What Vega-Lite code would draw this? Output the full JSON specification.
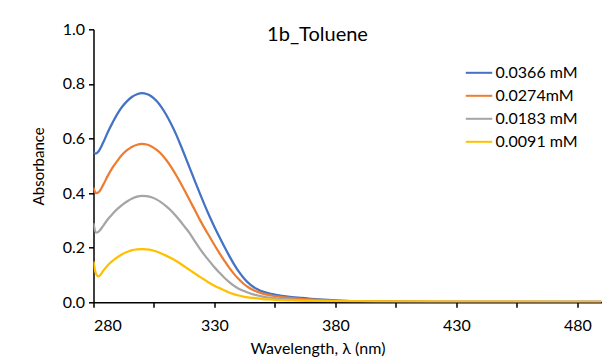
{
  "$schema": "https://vega.github.io/schema/vega-lite/v6.json",
  "width": 508,
  "height": 273,
  "autosize": {"type": "none"},
  "padding": {"left": 93.5, "top": 29.3, "right": 11.5, "bottom": 55.7},
  "background": "white",
  "title": {"text": "1b_Toluene", "font": "Lato", "fontSize": 20, "fontWeight": "normal", "color": "#000000", "anchor": "middle", "offset": 0, "baseline": "alphabetic", "dy": 40, "dx": -30},
  "config": {
    "view": {"stroke": null},
    "font": "Lato"
  },
  "data": {"values": [
    {"wl": 280, "A": 0.552, "c": "0.0366 mM"}, {"wl": 281, "A": 0.545, "c": "0.0366 mM"}, {"wl": 282, "A": 0.552, "c": "0.0366 mM"}, {"wl": 284, "A": 0.585, "c": "0.0366 mM"}, {"wl": 286, "A": 0.625, "c": "0.0366 mM"}, {"wl": 288, "A": 0.66, "c": "0.0366 mM"}, {"wl": 290, "A": 0.692, "c": "0.0366 mM"}, {"wl": 292, "A": 0.718, "c": "0.0366 mM"}, {"wl": 294, "A": 0.738, "c": "0.0366 mM"}, {"wl": 296, "A": 0.753, "c": "0.0366 mM"}, {"wl": 298, "A": 0.762, "c": "0.0366 mM"}, {"wl": 300, "A": 0.766, "c": "0.0366 mM"}, {"wl": 302, "A": 0.763, "c": "0.0366 mM"}, {"wl": 304, "A": 0.754, "c": "0.0366 mM"}, {"wl": 306, "A": 0.738, "c": "0.0366 mM"}, {"wl": 308, "A": 0.716, "c": "0.0366 mM"}, {"wl": 310, "A": 0.688, "c": "0.0366 mM"}, {"wl": 312, "A": 0.655, "c": "0.0366 mM"}, {"wl": 314, "A": 0.618, "c": "0.0366 mM"}, {"wl": 316, "A": 0.576, "c": "0.0366 mM"}, {"wl": 318, "A": 0.532, "c": "0.0366 mM"}, {"wl": 320, "A": 0.487, "c": "0.0366 mM"}, {"wl": 322, "A": 0.442, "c": "0.0366 mM"}, {"wl": 324, "A": 0.398, "c": "0.0366 mM"}, {"wl": 326, "A": 0.355, "c": "0.0366 mM"}, {"wl": 328, "A": 0.314, "c": "0.0366 mM"}, {"wl": 330, "A": 0.276, "c": "0.0366 mM"}, {"wl": 332, "A": 0.24, "c": "0.0366 mM"}, {"wl": 334, "A": 0.205, "c": "0.0366 mM"}, {"wl": 336, "A": 0.172, "c": "0.0366 mM"}, {"wl": 338, "A": 0.141, "c": "0.0366 mM"}, {"wl": 340, "A": 0.113, "c": "0.0366 mM"}, {"wl": 342, "A": 0.09, "c": "0.0366 mM"}, {"wl": 344, "A": 0.071, "c": "0.0366 mM"}, {"wl": 346, "A": 0.057, "c": "0.0366 mM"}, {"wl": 348, "A": 0.047, "c": "0.0366 mM"}, {"wl": 350, "A": 0.039, "c": "0.0366 mM"}, {"wl": 354, "A": 0.03, "c": "0.0366 mM"}, {"wl": 358, "A": 0.024, "c": "0.0366 mM"}, {"wl": 362, "A": 0.019, "c": "0.0366 mM"}, {"wl": 366, "A": 0.016, "c": "0.0366 mM"}, {"wl": 370, "A": 0.013, "c": "0.0366 mM"}, {"wl": 375, "A": 0.01, "c": "0.0366 mM"}, {"wl": 380, "A": 0.007, "c": "0.0366 mM"}, {"wl": 390, "A": 0.004, "c": "0.0366 mM"}, {"wl": 400, "A": 0.003, "c": "0.0366 mM"}, {"wl": 420, "A": 0.002, "c": "0.0366 mM"}, {"wl": 450, "A": 0.002, "c": "0.0366 mM"}, {"wl": 490, "A": 0.002, "c": "0.0366 mM"},

    {"wl": 280, "A": 0.42, "c": "0.0274mM"}, {"wl": 281, "A": 0.4, "c": "0.0274mM"}, {"wl": 282, "A": 0.402, "c": "0.0274mM"}, {"wl": 284, "A": 0.43, "c": "0.0274mM"}, {"wl": 286, "A": 0.465, "c": "0.0274mM"}, {"wl": 288, "A": 0.495, "c": "0.0274mM"}, {"wl": 290, "A": 0.52, "c": "0.0274mM"}, {"wl": 292, "A": 0.542, "c": "0.0274mM"}, {"wl": 294, "A": 0.558, "c": "0.0274mM"}, {"wl": 296, "A": 0.57, "c": "0.0274mM"}, {"wl": 298, "A": 0.577, "c": "0.0274mM"}, {"wl": 300, "A": 0.58, "c": "0.0274mM"}, {"wl": 302, "A": 0.578, "c": "0.0274mM"}, {"wl": 304, "A": 0.571, "c": "0.0274mM"}, {"wl": 306, "A": 0.559, "c": "0.0274mM"}, {"wl": 308, "A": 0.543, "c": "0.0274mM"}, {"wl": 310, "A": 0.522, "c": "0.0274mM"}, {"wl": 312, "A": 0.497, "c": "0.0274mM"}, {"wl": 314, "A": 0.468, "c": "0.0274mM"}, {"wl": 316, "A": 0.437, "c": "0.0274mM"}, {"wl": 318, "A": 0.404, "c": "0.0274mM"}, {"wl": 320, "A": 0.37, "c": "0.0274mM"}, {"wl": 322, "A": 0.336, "c": "0.0274mM"}, {"wl": 324, "A": 0.302, "c": "0.0274mM"}, {"wl": 326, "A": 0.27, "c": "0.0274mM"}, {"wl": 328, "A": 0.24, "c": "0.0274mM"}, {"wl": 330, "A": 0.21, "c": "0.0274mM"}, {"wl": 332, "A": 0.181, "c": "0.0274mM"}, {"wl": 334, "A": 0.154, "c": "0.0274mM"}, {"wl": 336, "A": 0.128, "c": "0.0274mM"}, {"wl": 338, "A": 0.105, "c": "0.0274mM"}, {"wl": 340, "A": 0.085, "c": "0.0274mM"}, {"wl": 342, "A": 0.068, "c": "0.0274mM"}, {"wl": 344, "A": 0.055, "c": "0.0274mM"}, {"wl": 346, "A": 0.045, "c": "0.0274mM"}, {"wl": 348, "A": 0.038, "c": "0.0274mM"}, {"wl": 350, "A": 0.032, "c": "0.0274mM"}, {"wl": 354, "A": 0.024, "c": "0.0274mM"}, {"wl": 358, "A": 0.019, "c": "0.0274mM"}, {"wl": 362, "A": 0.015, "c": "0.0274mM"}, {"wl": 366, "A": 0.012, "c": "0.0274mM"}, {"wl": 370, "A": 0.01, "c": "0.0274mM"}, {"wl": 375, "A": 0.008, "c": "0.0274mM"}, {"wl": 380, "A": 0.006, "c": "0.0274mM"}, {"wl": 390, "A": 0.004, "c": "0.0274mM"}, {"wl": 400, "A": 0.003, "c": "0.0274mM"}, {"wl": 420, "A": 0.002, "c": "0.0274mM"}, {"wl": 450, "A": 0.002, "c": "0.0274mM"}, {"wl": 490, "A": 0.002, "c": "0.0274mM"},

    {"wl": 280, "A": 0.29, "c": "0.0183 mM"}, {"wl": 281, "A": 0.255, "c": "0.0183 mM"}, {"wl": 282, "A": 0.258, "c": "0.0183 mM"}, {"wl": 284, "A": 0.28, "c": "0.0183 mM"}, {"wl": 286, "A": 0.305, "c": "0.0183 mM"}, {"wl": 288, "A": 0.325, "c": "0.0183 mM"}, {"wl": 290, "A": 0.343, "c": "0.0183 mM"}, {"wl": 292, "A": 0.358, "c": "0.0183 mM"}, {"wl": 294, "A": 0.37, "c": "0.0183 mM"}, {"wl": 296, "A": 0.38, "c": "0.0183 mM"}, {"wl": 298, "A": 0.387, "c": "0.0183 mM"}, {"wl": 300, "A": 0.39, "c": "0.0183 mM"}, {"wl": 302, "A": 0.389, "c": "0.0183 mM"}, {"wl": 304, "A": 0.385, "c": "0.0183 mM"}, {"wl": 306, "A": 0.377, "c": "0.0183 mM"}, {"wl": 308, "A": 0.366, "c": "0.0183 mM"}, {"wl": 310, "A": 0.352, "c": "0.0183 mM"}, {"wl": 312, "A": 0.336, "c": "0.0183 mM"}, {"wl": 314, "A": 0.317, "c": "0.0183 mM"}, {"wl": 316, "A": 0.296, "c": "0.0183 mM"}, {"wl": 318, "A": 0.273, "c": "0.0183 mM"}, {"wl": 320, "A": 0.25, "c": "0.0183 mM"}, {"wl": 322, "A": 0.222, "c": "0.0183 mM"}, {"wl": 324, "A": 0.196, "c": "0.0183 mM"}, {"wl": 326, "A": 0.172, "c": "0.0183 mM"}, {"wl": 328, "A": 0.15, "c": "0.0183 mM"}, {"wl": 330, "A": 0.128, "c": "0.0183 mM"}, {"wl": 332, "A": 0.109, "c": "0.0183 mM"}, {"wl": 334, "A": 0.091, "c": "0.0183 mM"}, {"wl": 336, "A": 0.075, "c": "0.0183 mM"}, {"wl": 338, "A": 0.061, "c": "0.0183 mM"}, {"wl": 340, "A": 0.05, "c": "0.0183 mM"}, {"wl": 342, "A": 0.042, "c": "0.0183 mM"}, {"wl": 344, "A": 0.035, "c": "0.0183 mM"}, {"wl": 346, "A": 0.029, "c": "0.0183 mM"}, {"wl": 348, "A": 0.025, "c": "0.0183 mM"}, {"wl": 350, "A": 0.021, "c": "0.0183 mM"}, {"wl": 354, "A": 0.016, "c": "0.0183 mM"}, {"wl": 358, "A": 0.013, "c": "0.0183 mM"}, {"wl": 362, "A": 0.01, "c": "0.0183 mM"}, {"wl": 366, "A": 0.008, "c": "0.0183 mM"}, {"wl": 370, "A": 0.007, "c": "0.0183 mM"}, {"wl": 375, "A": 0.005, "c": "0.0183 mM"}, {"wl": 380, "A": 0.004, "c": "0.0183 mM"}, {"wl": 390, "A": 0.003, "c": "0.0183 mM"}, {"wl": 400, "A": 0.002, "c": "0.0183 mM"}, {"wl": 490, "A": 0.002, "c": "0.0183 mM"},

    {"wl": 280, "A": 0.15, "c": "0.0091 mM"}, {"wl": 281, "A": 0.105, "c": "0.0091 mM"}, {"wl": 282, "A": 0.095, "c": "0.0091 mM"}, {"wl": 283, "A": 0.102, "c": "0.0091 mM"}, {"wl": 284, "A": 0.115, "c": "0.0091 mM"}, {"wl": 286, "A": 0.137, "c": "0.0091 mM"}, {"wl": 288, "A": 0.153, "c": "0.0091 mM"}, {"wl": 290, "A": 0.166, "c": "0.0091 mM"}, {"wl": 292, "A": 0.177, "c": "0.0091 mM"}, {"wl": 294, "A": 0.185, "c": "0.0091 mM"}, {"wl": 296, "A": 0.191, "c": "0.0091 mM"}, {"wl": 298, "A": 0.194, "c": "0.0091 mM"}, {"wl": 300, "A": 0.195, "c": "0.0091 mM"}, {"wl": 302, "A": 0.194, "c": "0.0091 mM"}, {"wl": 304, "A": 0.191, "c": "0.0091 mM"}, {"wl": 306, "A": 0.186, "c": "0.0091 mM"}, {"wl": 308, "A": 0.179, "c": "0.0091 mM"}, {"wl": 310, "A": 0.171, "c": "0.0091 mM"}, {"wl": 312, "A": 0.162, "c": "0.0091 mM"}, {"wl": 314, "A": 0.152, "c": "0.0091 mM"}, {"wl": 316, "A": 0.141, "c": "0.0091 mM"}, {"wl": 318, "A": 0.129, "c": "0.0091 mM"}, {"wl": 320, "A": 0.117, "c": "0.0091 mM"}, {"wl": 322, "A": 0.105, "c": "0.0091 mM"}, {"wl": 324, "A": 0.093, "c": "0.0091 mM"}, {"wl": 326, "A": 0.082, "c": "0.0091 mM"}, {"wl": 328, "A": 0.071, "c": "0.0091 mM"}, {"wl": 330, "A": 0.061, "c": "0.0091 mM"}, {"wl": 332, "A": 0.052, "c": "0.0091 mM"}, {"wl": 334, "A": 0.044, "c": "0.0091 mM"}, {"wl": 336, "A": 0.036, "c": "0.0091 mM"}, {"wl": 338, "A": 0.03, "c": "0.0091 mM"}, {"wl": 340, "A": 0.025, "c": "0.0091 mM"}, {"wl": 342, "A": 0.021, "c": "0.0091 mM"}, {"wl": 344, "A": 0.018, "c": "0.0091 mM"}, {"wl": 346, "A": 0.016, "c": "0.0091 mM"}, {"wl": 348, "A": 0.014, "c": "0.0091 mM"}, {"wl": 350, "A": 0.012, "c": "0.0091 mM"}, {"wl": 354, "A": 0.01, "c": "0.0091 mM"}, {"wl": 358, "A": 0.008, "c": "0.0091 mM"}, {"wl": 362, "A": 0.007, "c": "0.0091 mM"}, {"wl": 370, "A": 0.005, "c": "0.0091 mM"}, {"wl": 380, "A": 0.004, "c": "0.0091 mM"}, {"wl": 400, "A": 0.003, "c": "0.0091 mM"}, {"wl": 490, "A": 0.002, "c": "0.0091 mM"}
  ]},
  "mark": {"type": "line", "strokeWidth": 2.25, "interpolate": "monotone", "clip": true},
  "encoding": {
    "x": {
      "field": "wl", "type": "quantitative",
      "scale": {"domain": [280, 490], "nice": false, "zero": false},
      "axis": {
        "title": "Wavelength, λ (nm)",
        "values": [280, 305, 330, 355, 380, 405, 430, 455, 480],
        "labelExpr": "(datum.value - 280) % 50 == 0 ? datum.label : ''",
        "grid": false, "domainColor": "#000000", "domainWidth": 1.5,
        "tickColor": "#000000", "tickWidth": 1.5, "tickSize": 5,
        "labelFont": "Lato", "labelFontSize": 16, "labelColor": "#000000", "labelPadding": 10,
        "titleFont": "Lato", "titleFontSize": 16, "titleFontWeight": "normal", "titleColor": "#000000",
        "titleX": 224, "titlePadding": 7
      }
    },
    "y": {
      "field": "A", "type": "quantitative",
      "scale": {"domain": [0, 1], "nice": false},
      "axis": {
        "title": "Absorbance",
        "values": [0, 0.2, 0.4, 0.6, 0.8, 1.0],
        "format": ".1f",
        "grid": false, "domainColor": "#000000", "domainWidth": 1.5,
        "tickColor": "#000000", "tickWidth": 1.5, "tickSize": 5,
        "labelFont": "Lato", "labelFontSize": 16, "labelColor": "#000000", "labelPadding": 4,
        "titleFont": "Lato", "titleFontSize": 15, "titleFontWeight": "normal", "titleColor": "#000000",
        "titlePadding": 16
      }
    },
    "color": {
      "field": "c", "type": "nominal",
      "scale": {"domain": ["0.0366 mM", "0.0274mM", "0.0183 mM", "0.0091 mM"], "range": ["#4472C4", "#ED7D31", "#A5A5A5", "#FFC000"]},
      "legend": {
        "title": null, "orient": "none", "legendX": 371, "legendY": 29, "padding": 0,
        "symbolType": "stroke", "symbolSize": 700, "symbolStrokeWidth": 2,
        "labelFont": "Lato", "labelFontSize": 16, "labelColor": "#000000", "labelOffset": 2,
        "rowPadding": -1
      }
    },
    "order": {"field": "wl", "type": "quantitative"}
  }
}
